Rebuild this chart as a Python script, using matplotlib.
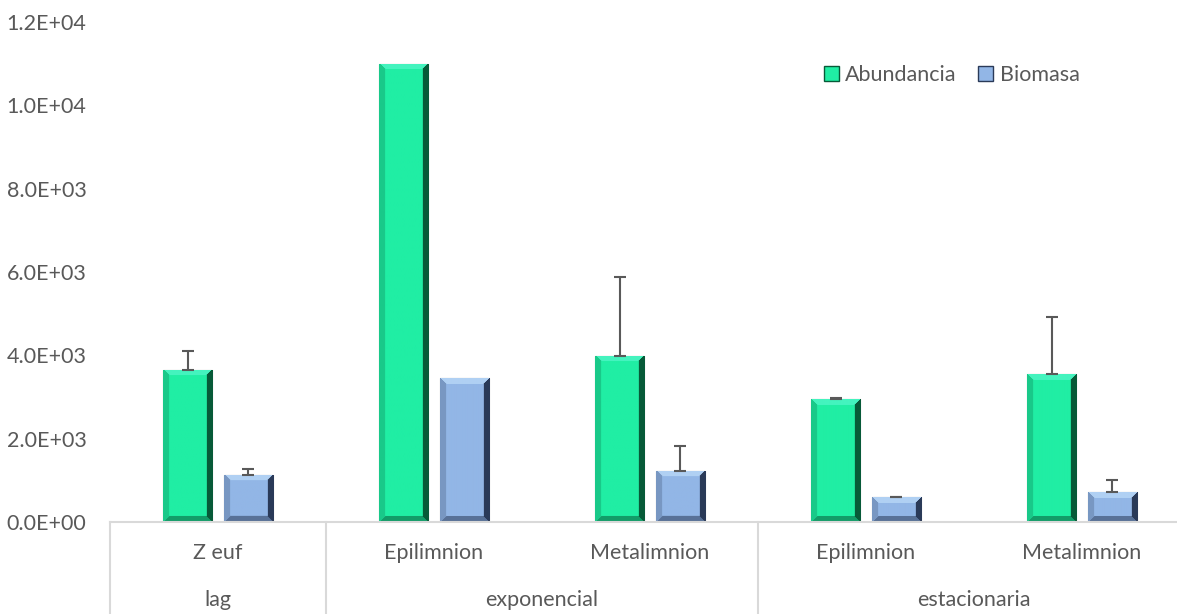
import matplotlib.pyplot as plt
from matplotlib.patches import Patch
from matplotlib.colors import to_rgb
import matplotlib.transforms as mtransforms
import numpy as np

# data
phases = ["lag", "exponencial", "estacionaria"]
phase_sizes = [1, 2, 2]
zones = ["Z euf", "Epilimnion", "Metalimnion", "Epilimnion", "Metalimnion"]
abundancia = [3650, 11000, 3990, 2950, 3550]
abundancia_err = [450, 0, 1890, 20, 1380]
biomasa = [1130, 3450, 1230, 590, 710]
biomasa_err = [140, 0, 590, 20, 300]

green = ("#20EEA4", "#075A38", "#5CF8D0")
blue = ("#92B6E6", "#2A3A58", "#C4E2FC")
txt = "#595959"
line_col = "#D9D9D9"

plt.rcParams["font.family"] = ["Lato", "DejaVu Sans"]

fig = plt.figure(figsize=(11.77, 6.14), dpi=100)
W, H = 1177, 614
left_px, right_px, bottom_px, top_px = 110, 1177, 522, 22
ax = fig.add_axes([left_px / W, (H - bottom_px) / H,
                   (right_px - left_px) / W, (bottom_px - top_px) / H])

cat_w = 216.0
px_per_unit = (bottom_px - top_px) / 12000
x = np.arange(len(zones))
width = 0.227
off = 0.141


def bevel(wpx, hpx, cols, b=6):
    base, dark, light = (np.array(to_rgb(c)) for c in cols)
    img = np.tile(base, (hpx, wpx, 1))
    ii, jj = np.mgrid[0:hpx, 0:wpx]
    d = np.stack([jj, wpx - 1 - jj, ii, hpx - 1 - ii])  # left, right, top, bottom
    near = d.argmin(axis=0)
    edge = d.min(axis=0) < b
    mix = {0: 0.25 * dark + 0.75 * base, 1: dark,
           2: 0.6 * light + 0.4 * base, 3: 0.55 * dark + 0.45 * base}
    for k, c in mix.items():
        img[edge & (near == k)] = c
    return img


def bevel_bars(bars, cols):
    for r in bars:
        x0, w, h = r.get_x(), r.get_width(), r.get_height()
        wpx = int(round(w * cat_w))
        hpx = max(int(round(h * px_per_unit)), 8)
        im = ax.imshow(bevel(wpx, hpx, cols), extent=(x0, x0 + w, 0, h),
                       aspect="auto", interpolation="bilinear", zorder=2)
        im.set_clip_path(r)


err_kw = dict(fmt="none", ecolor="#595959", elinewidth=1.5, capsize=4.5, capthick=1.5, zorder=3)
b1 = ax.bar(x - off, abundancia, width, color=green[0], edgecolor="#8a8a8a",
            linewidth=0.8, label="Abundancia", zorder=2)
b2 = ax.bar(x + off, biomasa, width, color=blue[0], edgecolor="#8a8a8a",
            linewidth=0.8, label="Biomasa", zorder=2)
bevel_bars(b1, green)
bevel_bars(b2, blue)

for xs, vals, errs in [(x - off, abundancia, abundancia_err), (x + off, biomasa, biomasa_err)]:
    for xi, v, e in zip(xs, vals, errs):
        if e > 0:
            ax.errorbar(xi, v, yerr=[[0], [e]], **err_kw)

ax.set_xlim(-0.5, -0.5 + (right_px - left_px) / cat_w)
ax.set_ylim(0, 12000)
ticks = np.arange(0, 12001, 2000)
ax.set_yticks(ticks)
ax.set_yticklabels([f"{v:.1E}" for v in ticks])
ax.tick_params(axis="y", length=0, pad=17, labelsize=15.5, labelcolor=txt)
ax.set_xticks([])
for s in ["top", "right", "left"]:
    ax.spines[s].set_visible(False)
ax.spines["bottom"].set_color(line_col)
ax.spines["bottom"].set_linewidth(1.5)

# two-level category axis
trans = mtransforms.blended_transform_factory(ax.transData, ax.transAxes)
y_low = -(H - bottom_px) / (bottom_px - top_px)
for i, z in enumerate(zones):
    ax.text(i, -0.062, z, transform=trans, ha="center", va="center",
            fontsize=15.5, color=txt)
start = -0.5
bounds = [start]
for p, n in zip(phases, phase_sizes):
    ax.text(start + n / 2, -0.156, p, transform=trans, ha="center", va="center",
            fontsize=15.5, color=txt)
    start += n
    bounds.append(start)
for b in bounds:
    ax.plot([b, b], [0, y_low], transform=trans, color=line_col, lw=1.5, clip_on=False)

handles = [Patch(facecolor=green[0], edgecolor=green[1]), Patch(facecolor=blue[0], edgecolor=blue[1])]
ax.legend(handles, ["Abundancia", "Biomasa"], loc="upper right", bbox_to_anchor=(0.927, 0.952),
          ncol=2, frameon=False, fontsize=15.5, labelcolor=txt, handlelength=0.7,
          handleheight=0.7, handletextpad=0.3, columnspacing=1.0)

fig.savefig("out.png", dpi=100)
